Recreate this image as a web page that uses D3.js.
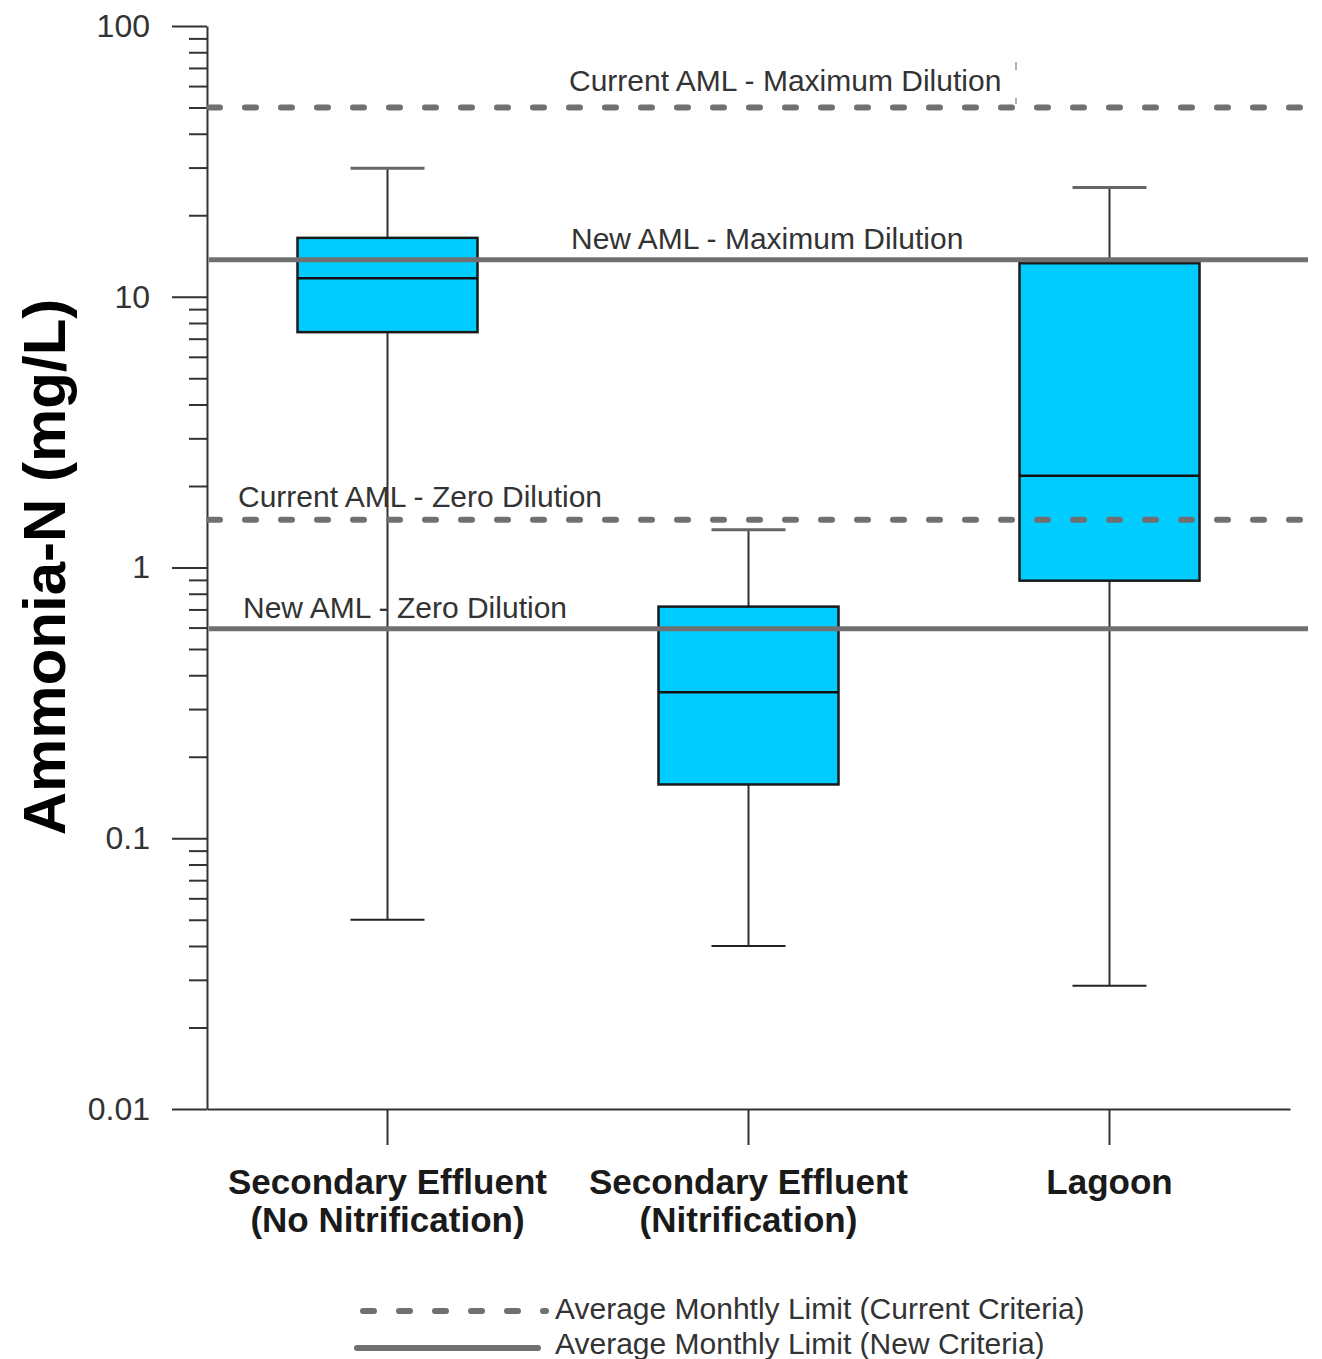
<!DOCTYPE html>
<html>
<head>
<meta charset="utf-8">
<script src="https://cdn.jsdelivr.net/npm/d3@7"></script>
<style>
  body { margin: 0; background: #fff; }
  text { font-family: "Liberation Sans", Arial, sans-serif; }
</style>
</head>
<body>
<div id="chart"></div>
<script>
// data
var categories = ["noNit", "nit", "lagoon"];
var categoryLines = [
    ["Secondary Effluent", "(No Nitrification)"],
    ["Secondary Effluent", "(Nitrification)"],
    ["Lagoon"]
];
var whiskerLow = [0.05, 0.04, 0.0285];
var q1 = [7.4, 0.158, 0.894];
var median = [11.7, 0.346, 2.18];
var q3 = [16.5, 0.717, 13.3];
var whiskerHigh = [29.8, 1.38, 25.3];

var limitNames = ["Current AML - Maximum Dilution", "New AML - Maximum Dilution",
    "Current AML - Zero Dilution", "New AML - Zero Dilution"];
var limitValues = [50, 13.7, 1.5, 0.594];
var limitCurrent = [true, false, true, false];

var majorTicks = [100, 10, 1, 0.1, 0.01];
var majorLabels = ["100", "10", "1", "0.1", "0.01"];

var legendLabels = ["Average Monhtly Limit (Current Criteria)", "Average Monthly Limit (New Criteria)"];

// layout
var svgWidth = 1322;
var svgHeight = 1359;
var plot = { left: 207, right: 1290, top: 26, bottom: 1109 };

var svg = d3.select("#chart")
    .append("svg")
    .attr("width", svgWidth)
    .attr("height", svgHeight);

var y = d3.scaleLog()
    .domain([0.01, 100])
    .range([plot.bottom, plot.top]);

var x = d3.scaleBand()
    .domain(categories)
    .range([plot.left, plot.right])
    .padding(0);

var lineGray = "#707070";
var axisColor = "#333";

// minor ticks 2..9 in every decade
var minorTicks = [];
[0.01, 0.1, 1, 10].forEach(function (d) {
    for (var k = 2; k <= 9; k++) minorTicks.push(+(d * k).toPrecision(3));
});

// y axis (minor then major)
var minorAxis = svg.append("g")
    .attr("transform", `translate(${plot.left},0)`)
    .call(d3.axisLeft(y).tickValues(minorTicks).tickSize(18).tickSizeOuter(0).tickFormat(""));
minorAxis.select(".domain").remove();
minorAxis.selectAll("line").attr("stroke", axisColor).attr("stroke-width", 2);

var yAxis = svg.append("g")
    .attr("transform", `translate(${plot.left},0)`)
    .call(d3.axisLeft(y).tickValues(majorTicks).tickSize(35).tickSizeOuter(0)
        .tickPadding(22)
        .tickFormat(function (d, i) { return majorLabels[i]; }));
yAxis.select(".domain").attr("stroke", axisColor).attr("stroke-width", 2);
yAxis.selectAll("line").attr("stroke", axisColor).attr("stroke-width", 2);
yAxis.selectAll("text")
    .attr("fill", "#333")
    .style("font-size", "32px")
    .style("font-family", "'Liberation Sans', Arial, sans-serif");

// x axis
var xAxis = svg.append("g")
    .attr("transform", `translate(0,${plot.bottom})`)
    .call(d3.axisBottom(x).tickSize(36).tickSizeOuter(0).tickFormat(""));
xAxis.select(".domain").attr("stroke", axisColor).attr("stroke-width", 2);
xAxis.selectAll("line").attr("stroke", axisColor).attr("stroke-width", 2);

// category labels
categories.forEach(function (c, i) {
    var t = svg.append("text")
        .attr("x", x(c) + x.bandwidth() / 2)
        .attr("y", 1194)
        .attr("text-anchor", "middle")
        .style("font-size", "35px")
        .style("font-weight", "bold")
        .attr("fill", "#1a1a1a");
    categoryLines[i].forEach(function (line, j) {
        t.append("tspan")
            .attr("x", x(c) + x.bandwidth() / 2)
            .attr("dy", j === 0 ? 0 : 38)
            .text(line);
    });
});

// y axis title
svg.append("text")
    .attr("transform", "translate(65,567) rotate(-90)")
    .attr("text-anchor", "middle")
    .style("font-size", "60px")
    .style("font-weight", "bold")
    .attr("fill", "#000")
    .text("Ammonia-N (mg/L)");

// boxes
var boxHalf = 90;
var capHalf = 37;
var boxes = svg.append("g");
categories.forEach(function (c, i) {
    var cx = x(c) + x.bandwidth() / 2;
    // whisker
    boxes.append("line")
        .attr("x1", cx).attr("x2", cx)
        .attr("y1", y(whiskerHigh[i])).attr("y2", y(whiskerLow[i]))
        .attr("stroke", axisColor).attr("stroke-width", 2);
    // caps
    boxes.append("line")
        .attr("x1", cx - capHalf).attr("x2", cx + capHalf)
        .attr("y1", y(whiskerHigh[i])).attr("y2", y(whiskerHigh[i]))
        .attr("stroke", "#666").attr("stroke-width", 3);
    boxes.append("line")
        .attr("x1", cx - capHalf).attr("x2", cx + capHalf)
        .attr("y1", y(whiskerLow[i])).attr("y2", y(whiskerLow[i]))
        .attr("stroke", "#222").attr("stroke-width", 2);
    // box
    boxes.append("rect")
        .attr("x", cx - boxHalf)
        .attr("y", y(q3[i]))
        .attr("width", boxHalf * 2)
        .attr("height", y(q1[i]) - y(q3[i]))
        .attr("fill", "#00CCFF")
        .attr("stroke", "#1a1a1a")
        .attr("stroke-width", 2.5);
    // median
    boxes.append("line")
        .attr("x1", cx - boxHalf).attr("x2", cx + boxHalf)
        .attr("y1", y(median[i])).attr("y2", y(median[i]))
        .attr("stroke", "#111").attr("stroke-width", 2.5);
});

// limit lines
var labelX = [569, 571, 238, 243];
var labelLift = [17, 11, 13, 11];
limitValues.forEach(function (v, i) {
    var ln = svg.append("line")
        .attr("x1", plot.left + 2).attr("x2", 1308)
        .attr("y1", y(v)).attr("y2", y(v))
        .attr("stroke", lineGray);
    if (limitCurrent[i]) {
        ln.attr("stroke-width", 6)
            .attr("stroke-linecap", "round")
            .attr("stroke-dasharray", "11,25");
    } else {
        ln.attr("stroke-width", 5);
    }
    svg.append("text")
        .attr("x", labelX[i])
        .attr("y", y(v) - labelLift[i])
        .style("font-size", "30px")
        .attr("fill", "#333")
        .text(limitNames[i]);
});

// small stray mark next to the top label
svg.append("line")
    .attr("x1", 1016).attr("x2", 1016)
    .attr("y1", 62).attr("y2", 104)
    .attr("stroke", "#999").attr("stroke-width", 1.5)
    .attr("stroke-dasharray", "8,28");

// legend
var legend = svg.append("g");
legend.append("line")
    .attr("x1", 363).attr("x2", 546)
    .attr("y1", 1311).attr("y2", 1311)
    .attr("stroke", lineGray)
    .attr("stroke-width", 6)
    .attr("stroke-linecap", "round")
    .attr("stroke-dasharray", "11,25");
legend.append("line")
    .attr("x1", 357).attr("x2", 538)
    .attr("y1", 1348).attr("y2", 1348)
    .attr("stroke", lineGray)
    .attr("stroke-width", 6)
    .attr("stroke-linecap", "round");
legendLabels.forEach(function (d, i) {
    legend.append("text")
        .attr("x", 555)
        .attr("y", 1319 + i * 35)
        .style("font-size", "30px")
        .attr("fill", "#333")
        .text(d);
});
</script>
</body>
</html>
